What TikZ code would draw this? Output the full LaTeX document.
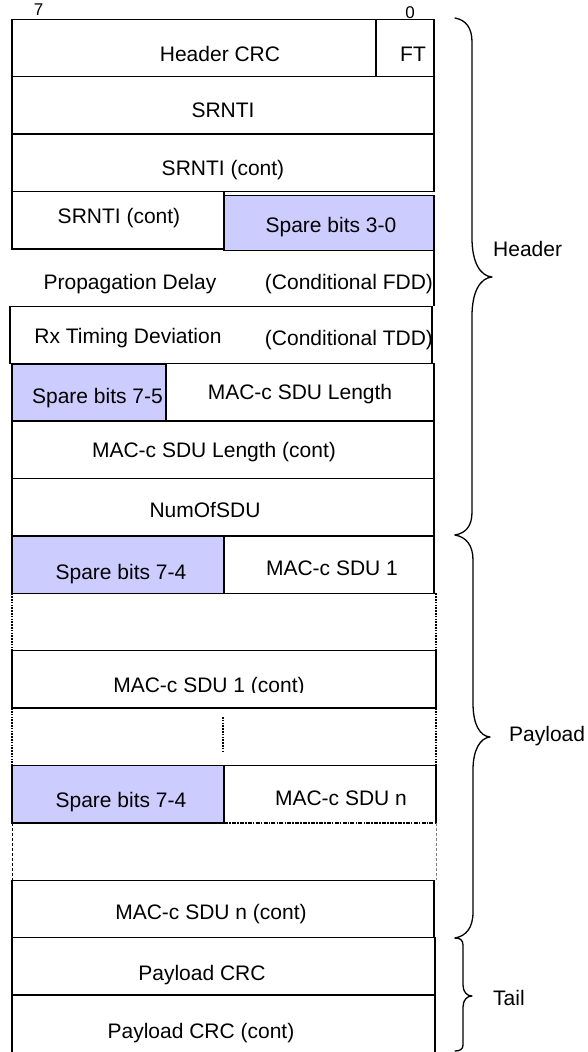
\documentclass[tikz,border=0pt]{standalone}
\usepackage{fontspec}
\setmainfont{Liberation Sans}
\definecolor{sparefill}{RGB}{204,204,255}
\begin{document}
\begin{tikzpicture}[x=1pt,y=-1pt,
  box/.style={draw, line width=1.3pt, inner sep=0pt, outer sep=0pt, anchor=north west},
  sparebox/.style={box, fill=sparefill},
  lbl/.style={font=\fontsize{21}{25}\selectfont, inner sep=0pt, anchor=base},
  sidelbl/.style={font=\fontsize{21}{25}\selectfont, inner sep=0pt, anchor=base west},
  bitlbl/.style={font=\fontsize{17}{20}\selectfont, inner sep=0pt, anchor=base},
  gapdot/.style={line width=1.6pt, dash pattern=on 1.6pt off 1.2pt},
  gapthin/.style={line width=0.6pt, dash pattern=on 3pt off 2pt},
  dashdotline/.style={line width=1.4pt, dash pattern=on 4pt off 1.2pt on 1.5pt off 1.2pt},
  bracepath/.style={line width=1.3pt, line cap=round, line join=round}]
\useasboundingbox (0,0) rectangle (587,1052);

% bit numbers
\node[bitlbl] (b7) at (38.5,16) {7};
\node[bitlbl] (b0) at (410,19) {0};

% boxes
\node[box, minimum width=364pt, minimum height=57.4pt] (hcrc) at (12,19.3) {};
\node[box, minimum width=58pt, minimum height=57.4pt] (ft) at (376,19.3) {};
\node[box, minimum width=422pt, minimum height=57.4pt] (srnti) at (12,76.7) {};
\node[box, minimum width=422pt, minimum height=57.4pt] (srnti2) at (12,134.1) {};
\node[box, minimum width=212pt, minimum height=57.5pt] (srnti3) at (12,191.5) {};
\node[sparebox, minimum width=210pt, minimum height=55pt] (sp30) at (224,195.5) {};
\node[box, minimum width=422pt, minimum height=57.4pt] (rx) at (10,306.3) {};
\draw[line width=1.3pt] (sp30.south east) -- (sp30.south east |- rx.north);
\node[sparebox, minimum width=154pt, minimum height=56.4pt] (sp75) at (12,364.7) {};
\node[box, minimum width=268pt, minimum height=57.9pt] (len) at (166,363.2) {};
\node[box, minimum width=422pt, minimum height=57.4pt] (len2) at (12,421.1) {};
\node[box, minimum width=422pt, minimum height=57.4pt] (num) at (12,478.5) {};
\node[sparebox, minimum width=212pt, minimum height=57.4pt] (sp74a) at (12,535.9) {};
\node[box, minimum width=210pt, minimum height=57.4pt] (sdu1) at (224,535.9) {};
\node[box, minimum width=424pt, minimum height=57.4pt] (sdu1c) at (12,650.7) {};
\node[sparebox, minimum width=212pt, minimum height=57.4pt] (sp74b) at (12,765.5) {};
\node[inner sep=0pt, outer sep=0pt, anchor=north west, minimum width=212pt, minimum height=57.4pt] (sdun) at (224,765.5) {};
\draw[line width=1.3pt] (sdun.south west) -- (sdun.north west) -- (sdun.north east) -- (sdun.south east);
\draw[dashdotline] (sdun.south west) -- (sdun.south east);
\node[box, minimum width=422pt, minimum height=57.4pt] (sdunc) at (12,880.3) {};
\node[box, minimum width=423pt, minimum height=57.4pt] (pcrc) at (12,937.7) {};
\node[box, minimum width=423pt, minimum height=58pt] (pcrc2) at (12,995.1) {};

% gaps
\draw[gapdot] (sp74a.south west) -- (sdu1c.north west);
\draw[gapdot] (sdu1c.north east |- sdu1.south) -- (sdu1c.north east);
\draw[gapdot] (sdu1c.south west) -- (sp74b.north west);
\draw[gapdot] (sdu1c.south east) -- (sdun.north east);
\coordinate (mida) at (223,717);
\coordinate (midb) at (223,753);
\draw[gapdot] (mida) -- (midb);
\draw[gapthin] (sp74b.south west) -- (sdunc.north west);
\draw[gapthin, gray] (sdun.south east) -- (sdun.south east |- sdunc.north);

% texts
\node[lbl] (t-hcrc) at (220,61.2) {Header CRC};
\node[lbl] (t-ft) at (413,61.2) {FT};
\node[lbl] (t-srnti) at (223,117.5) {SRNTI};
\node[lbl] (t-srnti2) at (223,175.5) {SRNTI (cont)};
\node[lbl] (t-srnti3) at (119,223) {SRNTI (cont)};
\node[lbl] (t-sp30) at (331,232) {Spare bits 3-0};
\node[lbl] (t-prop) at (130,289.5) {Propagation Delay};
\node[lbl] (t-fdd) at (349,289.5) {(Conditional FDD)};
\node[lbl] (t-rx) at (128,343.5) {Rx Timing Deviation};
\node[lbl] (t-tdd) at (349,345.5) {(Conditional TDD)};
\node[lbl] (t-sp75) at (97.5,403) {Spare bits 7-5};
\node[lbl] (t-len) at (300,399) {MAC-c SDU Length};
\node[lbl] (t-len2) at (214,457.5) {MAC-c SDU Length (cont)};
\node[lbl] (t-num) at (205,517) {NumOfSDU};
\node[lbl] (t-sp74a) at (121,579.5) {Spare bits 7-4};
\node[lbl] (t-sdu1) at (332,575.5) {MAC-c SDU 1};
\begin{scope}
\clip (0,0) rectangle (587,692.6);
\node[lbl] (t-sdu1c) at (209,692.2) {MAC-c SDU 1 (cont)};
\end{scope}
\node[lbl] (t-sp74b) at (121,807.5) {Spare bits 7-4};
\node[lbl] (t-sdun) at (341,805.5) {MAC-c SDU n};
\node[lbl] (t-sdunc) at (211,919.5) {MAC-c SDU n (cont)};
\node[lbl] (t-pcrc) at (202,980.5) {Payload CRC};
\node[lbl] (t-pcrc2) at (201,1038.5) {Payload CRC (cont)};

% braces
\draw[bracepath] (455,18) .. controls (466,20) and (472,28) .. (472,42)
  -- (472,238) .. controls (472,262) and (480,276) .. (492,277)
  .. controls (480,278) and (472,292) .. (472,316)
  -- (472,512) .. controls (472,526) and (466,533) .. (455,535);
\draw[bracepath] (455,535) .. controls (466,537) and (473,545) .. (473,560)
  -- (473,703) .. controls (473,725) and (480,736) .. (490,737)
  .. controls (480,738) and (473,750) .. (473,770)
  -- (473,912) .. controls (473,928) and (466,936) .. (455,938);
\draw[bracepath] (455,938) .. controls (460,938) and (463,940) .. (463,945)
  -- (463,985) .. controls (463,992) and (467,996) .. (472,996)
  .. controls (467,996) and (463,1000) .. (463,1007)
  -- (463,1045) .. controls (463,1049) and (460,1051) .. (455,1051);

\node[sidelbl] (l-header) at (493,256.5) {Header};
\node[sidelbl] (l-payload) at (509,741.5) {Payload};
\node[sidelbl] (l-tail) at (493,1005.5) {Tail};
\end{tikzpicture}
\end{document}
